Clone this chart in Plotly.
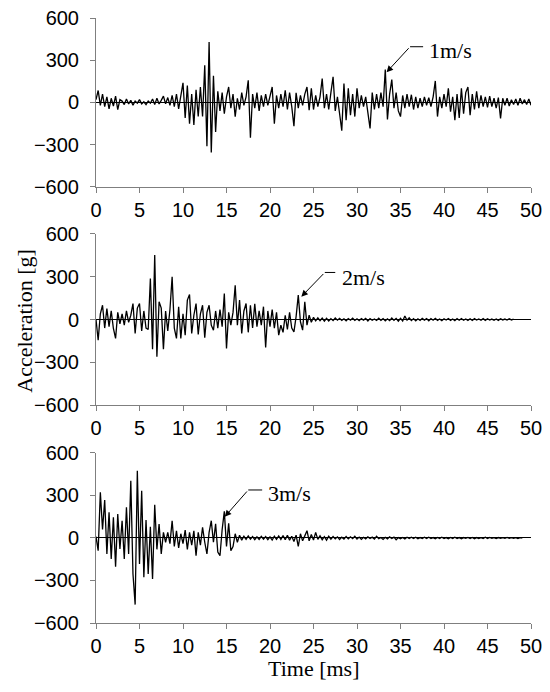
import numpy as np
import plotly.graph_objects as go

acc_1ms = [
    20, 85, -20, 60,   -30, 40, -45, 30,   -25, 45, -50, 20,   10, -15, 25, -10,
    15, -20, 10, -5,   20, -10, 5, -15,   10, -5, 25, -15,   30, -10, 15, 45,
    -10, 35, -20, 50,   -30, 60, -45, 40,   140, -110, 120, -150,   60, -160, 90, -100,
    110, -100, 265, -310,   430, -355, 190, -210,   80, -60, 70, -80,   40, 110, -40, 60,
    -100, 30, -50, 70,   -20, 40, 158, -250,   60, -40, 70, -60,   50, -30, 60, -20,
    40, 110, -150, 50,   -40, 60, -30, 87,   -50, 70, -30, -168,   68, -40, 50, -20,
    60, 110, -55, 100,   -50, 50, -30, 40,   170, -40, 60, -50,   70, 182, -60, 40,
    -80, -200, 135, -125,   100, -90, 60, -100,   100, -40, 50, -30,   40, -60, -184, 70,
    -50, 60, -40, 70,   -30, 234, -120, 60,   163, -40, 70, -60,   -100, 50, -40, 60,
    -30, 55, -50, 40,   -40, 30, -30, 40,   -20, 35, -30, 40,   153, -100, 40, -40,
    60, -30, 100, -66,   40, -125, 60, -110,   100, -80, 70, 110,   -90, 60, -50, 80,
    -40, 50, -30, 40,   -35, 45, -30, 30,   -40, 35, -113, 30,   -20, 30, -25, 20,
    -15, 25, -20, 30,   -10, 20, -15, 25,   -20,
]
acc_2ms = [
    0, -145, 40, 100,   -60, 77, -50, 60,   -63, -133, 50, -30,   40, -40, 60, -20,
    30, 112, -98, 80,   112, -80, 60, -60,   -70, 288, -208, 452,   -262, 124, 80, -208,
    60, -80, 70, 300,   -60, -133, 89, -133,   40, -110, 136, 175,   -98, 30, 112, -105,
    40, 100, -128, 50,   100, -40, -75, 60,   -60, 70, -50, 182,   -204, 50, -40, 50,
    240, -40, 136, -98,   60, 112, -90, 100,   -60, 110, -50, 60,   -40, 90, -197, 60,
    -50, 70, -60, 50,   -110, -40, -90, 30,   -70, 50, -60, -87,   20, 171, -16, -75,
    124, -40, 30, -20,   15, -10, 12, -8,   10, -12, 8, -10,   6, -8, 10, -5,
    8, -6, 5, -9,   7, -5, 9, -7,   5, -8, 6, -4,   8, -10, 6, -5,
    4, -7, 9, -6,   6, -9, 5, -8,   10, -6, 8, -12,   8, -10, 25, -5,
    12, -8, 6, -10,   5, -7, 8, -4,   6, -9, 7, -5,   8, -6, 4, -8,
    5, -4, 7, -6,   4, -8, 6, -5,   7, -5, 4, -6,   5, -7, 6, -4,
    4, -5, 6, -6,   5, -4, 3, -5,   4, -6, 5, -3,   3, -4, 5, -3,   2,
]
acc_3ms = [
    10, -90, 322, 60,   268, -113, 181, -148,   146, -202, 169, -78,   122, -148, 216, -113,
    404, -254, -470, 474,   -183, 334, -277, 127,   -254, 80, -289, 235,   -80, 99, -113, 40,
    -30, 40, -40, 122,   -60, 50, -70, 30,   -40, 56, -80, 40,   -50, 50, -125, 40,
    -50, 75, -30, -113,   40, 122, -30, 100,   -100, -125, 60, 188,   -60, 103, -90, -60,
    30, -30, 20, -15,   12, -10, 15, -8,   10, -12, 8, -10,   12, -8, 10, -12,
    8, -15, 12, -10,   15, -10, 18, -12,   20, -15, 12, -25,   20, -60, 30, -20,
    15, 52, -20, 25,   -15, 40, -10, 15,   -12, 10, -15, 12,   -8, 10, -6, 8,
    -10, 6, -8, 10,   -6, 8, -5, 12,   -8, 6, -10, 5,   -6, 8, -4, 6,
    -8, 12, -5, 4,   -10, 5, -6, 8,   -4, 6, -12, 3,   -5, 4, -6, 5,
    -3, 6, -4, 5,   -5, 3, -4, 6,   -3, 5, -4, 3,   -6, 4, -3, 5,
    -4, 3, -5, 4,   -3, 5, -4, 3,   -5, 3, -2, 4,   -3, 4, -5, 3,
    -4, 2, -3, 5,   -3, 4, -2, 3,   -4, 3, -3, 2,   -3, 4, -2, 3,
    -2, 3, -4, 2,   0,
]
series = [acc_1ms, acc_2ms, acc_3ms]
labels = ["1m/s", "2m/s", "3m/s"]
# arrow: tip (t, g), tail (t, g), end of horizontal leader (t), text left (t, g)
arrow_tip = [(33.4, 215), (23.6, 160), (14.8, 150)]
arrow_tail = [(36.1, 396), (26.3, 330), (17.5, 339)]
leader_end = [37.6, 27.5, 19.1]
label_pos = [(38.0, 372), (28.0, 292), (19.5, 312)]

x_ticks = list(range(0, 51, 5))
y_ticks = [-600, -300, 0, 300, 600]
dt = 0.25

domains = [[0.7207, 1.0], [0.3603, 0.643], [0.0, 0.281]]

fig = go.Figure()
for i, vals in enumerate(series):
    t = np.arange(len(vals)) * dt
    fig.add_trace(go.Scatter(x=t, y=vals, mode="lines",
                             line=dict(color="black", width=1.3),
                             xaxis=f"x{i+1}", yaxis=f"y{i+1}", showlegend=False))

axis_common = dict(showline=True, linecolor="#7f7f7f", linewidth=1, automargin=False,
                   ticks="outside", ticklen=5, tickcolor="#7f7f7f", tickwidth=1,
                   ticklabeloverflow="allow",
                   showgrid=False, tickfont=dict(family="Liberation Sans, Arial", size=20, color="black"))
layout = dict(width=550, height=692, plot_bgcolor="white", paper_bgcolor="white",
              margin=dict(l=88, r=27, t=10, b=77), showlegend=False)
for i in range(3):
    sx = "" if i == 0 else str(i + 1)
    layout[f"xaxis{sx}"] = dict(axis_common, domain=[0, 1], range=[0, 50],
                               tickvals=x_ticks, anchor=f"y{sx}", zeroline=False)
    layout[f"yaxis{sx}"] = dict(axis_common, domain=domains[i], range=[-600, 600],
                               tickvals=y_ticks, anchor=f"x{sx}",
                               zeroline=True, zerolinecolor="black", zerolinewidth=1,
                               ticklabelstandoff=7)
fig.update_layout(**layout)

serif = dict(family="Liberation Serif, Times New Roman", size=22, color="black")
annotations = []
shapes = []
for i in range(3):
    sx = "" if i == 0 else str(i + 1)
    xr, yr = f"x{sx}", f"y{sx}"
    annotations.append(dict(x=arrow_tip[i][0], y=arrow_tip[i][1], ax=arrow_tail[i][0], ay=arrow_tail[i][1],
                            xref=xr, yref=yr, axref=xr, ayref=yr, text="", showarrow=True,
                            arrowhead=2, arrowsize=1.3, arrowwidth=1, arrowcolor="black", standoff=0))
    shapes.append(dict(type="line", xref=xr, yref=yr, x0=arrow_tail[i][0], y0=arrow_tail[i][1],
                       x1=leader_end[i], y1=arrow_tail[i][1], line=dict(color="black", width=1)))
    annotations.append(dict(x=label_pos[i][0], y=label_pos[i][1], xref=xr, yref=yr, text=labels[i],
                            showarrow=False, xanchor="left", yanchor="middle", font=serif))
annotations.append(dict(x=-0.165, y=0.50, xref="paper", yref="paper", text="Acceleration [g]",
                        textangle=-90, showarrow=False, xanchor="center", yanchor="middle", font=serif))
annotations.append(dict(x=0.499, y=-0.0744, xref="paper", yref="paper", text="Time [ms]",
                        showarrow=False, xanchor="center", yanchor="middle", font=serif))
fig.update_layout(annotations=annotations, shapes=shapes)

fig.write_html("out.html")
